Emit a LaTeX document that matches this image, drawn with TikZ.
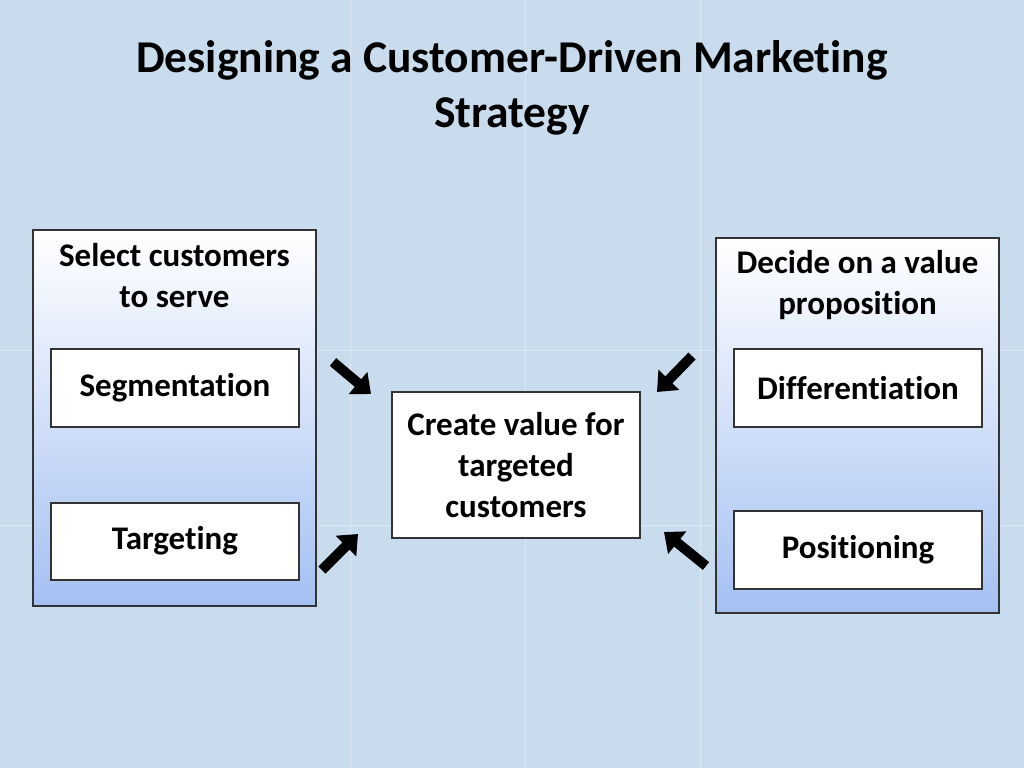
\documentclass[tikz,border=0pt]{standalone}
\usepackage{fontspec}
\setmainfont[Ligatures=NoCommon]{Carlito}
\usetikzlibrary{arrows.meta}
\definecolor{bg}{HTML}{C9DCEE}
\definecolor{panelb}{HTML}{A4C0F2}
\definecolor{gridc}{HTML}{DCE8F4}
\tikzset{
 panel/.style={draw=black!80,line width=1.5pt,top color=white,bottom color=panelb},
 box/.style={draw=black!80,line width=1.2pt,fill=white},
 txt/.style={font=\bfseries\fontsize{33}{41}\selectfont,align=center},
 blk/.style={line width=10pt,-{Triangle[length=17pt,width=28pt]}}
}
\begin{document}
\begin{tikzpicture}[x=1pt,y=-1pt]
\fill[bg] (0,0) rectangle (1024,768);
\useasboundingbox (0,0) rectangle (1024,768);
\foreach \x in {350,525,700} \draw[gridc,line width=1pt] (\x,0)--(\x,768);
\foreach \y in {350,525} \draw[gridc,line width=1pt] (0,\y)--(1024,\y);
\node[font=\bfseries\fontsize{45.5}{55}\selectfont,align=center] (title) at (512,88) {Designing a Customer-Driven Marketing\\Strategy};
\draw[panel] (33,230) rectangle (316,606);
\draw[panel] (716,238) rectangle (999,613);
\node[txt] (lt) at (174.5,276) {Select customers\\to serve};
\node[txt] (rt) at (857.5,285) {Decide on a value\\proposition};
\node[box,txt,minimum width=248pt,minimum height=78pt] (seg) at (175,388) {Segmentation};
\node[box,txt,minimum width=248pt,minimum height=77pt] (tar) at (175,541.5) {\raisebox{8pt}{Targeting}};
\node[box,txt,minimum width=248pt,minimum height=78pt] (dif) at (858,388) {Differentiation};
\node[box,txt,minimum width=248pt,minimum height=78pt] (pos) at (858,550) {Positioning};
\node[box,txt,minimum width=248pt,minimum height=146pt] (cen) at (516,465) {Create value for\\targeted\\customers};
\coordinate (a1) at (333,362); \coordinate (b1) at (371,394);
\coordinate (a2) at (322,570); \coordinate (b2) at (358,534);
\coordinate (a3) at (692,356); \coordinate (b3) at (657,392);
\coordinate (a4) at (706,566); \coordinate (b4) at (664,532);
\draw[blk] (a1)--(b1);
\draw[blk] (a2)--(b2);
\draw[blk] (a3)--(b3);
\draw[blk] (a4)--(b4);
\end{tikzpicture}
\end{document}
